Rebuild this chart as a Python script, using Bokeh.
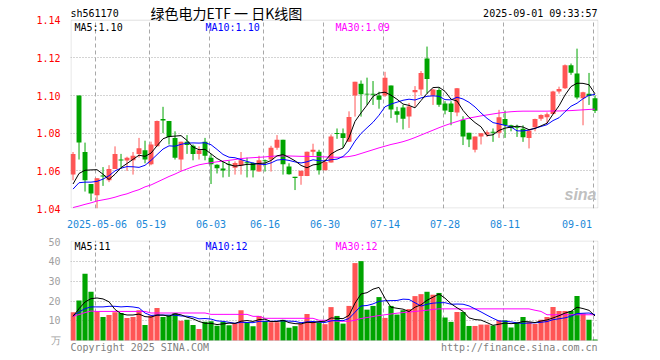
from bokeh.plotting import figure
from bokeh.models import Range1d, FixedTicker, Label, PrintfTickFormatter, BoxAnnotation
from bokeh.layouts import column
from bokeh.embed import file_html
from bokeh.resources import INLINE

# ---------------- data ----------------
opens = [1.058, 1.100, 1.070, 1.053, 1.047, 1.0575, 1.055, 1.061, 1.066, 1.0655,
         1.0656, 1.069, 1.071, 1.0635, 1.073, 1.0875, 1.0865, 1.0775, 1.066, 1.0754,
         1.0733, 1.069, 1.0754, 1.067, 1.0633, 1.0612, 1.0634, 1.0617, 1.0628, 1.0645,
         1.0642, 1.0596, 1.0655, 1.066, 1.0723, 1.0765, 1.0623, 1.0568, 1.0572, 1.0572,
         1.0702, 1.0702, 1.0603, 1.0644, 1.080, 1.080, 1.0754, 1.100, 1.1063, 1.101,
         1.1008, 1.100, 1.100, 1.1053, 1.0916, 1.0937, 1.0888, 1.1017, 1.1032, 1.1197,
         1.100, 1.103, 1.0958, 1.0958, 1.091, 1.0872, 1.0802, 1.0712, 1.0782, 1.0793,
         1.0807, 1.0802, 1.0875, 1.0842, 1.0833, 1.0824, 1.0775, 1.0831, 1.0877, 1.0884,
         1.0902, 1.1021, 1.1038, 1.1161, 1.1117, 1.0986, 1.1009, 1.0986]
highs = [1.070, 1.100, 1.075, 1.053, 1.056, 1.062, 1.063, 1.073, 1.069, 1.0675,
         1.070, 1.0775, 1.076, 1.0755, 1.0867, 1.094, 1.0865, 1.081, 1.0755, 1.079,
         1.074, 1.073, 1.0775, 1.069, 1.0635, 1.065, 1.0653, 1.065, 1.070, 1.067,
         1.0645, 1.068, 1.066, 1.0733, 1.079, 1.0765, 1.064, 1.0568, 1.060, 1.0702,
         1.0744, 1.0712, 1.066, 1.0793, 1.0825, 1.0825, 1.0916, 1.1073, 1.108, 1.1095,
         1.1077, 1.102, 1.1126, 1.1053, 1.094, 1.095, 1.096, 1.105, 1.113, 1.126,
         1.1035, 1.104, 1.097, 1.097, 1.104, 1.089, 1.0802, 1.0782, 1.080, 1.0815,
         1.0825, 1.0924, 1.092, 1.0845, 1.0845, 1.0842, 1.0815, 1.0877, 1.090, 1.091,
         1.1025, 1.1047, 1.1165, 1.117, 1.1249, 1.102, 1.112, 1.100]
lows = [1.055, 1.066, 1.049, 1.044, 1.040, 1.052, 1.054, 1.061, 1.061, 1.060,
        1.058, 1.067, 1.064, 1.063, 1.073, 1.080, 1.074, 1.066, 1.060, 1.069,
        1.0656, 1.066, 1.0656, 1.053, 1.0586, 1.0565, 1.0568, 1.058, 1.058, 1.0565,
        1.0565, 1.0596, 1.0596, 1.0596, 1.0712, 1.058, 1.058, 1.0498, 1.0526, 1.0572,
        1.068, 1.058, 1.0603, 1.0644, 1.077, 1.0723, 1.0754, 1.0888, 1.0888, 1.095,
        1.095, 1.093, 1.0993, 1.088, 1.0856, 1.082, 1.0828, 1.094, 1.100, 1.101,
        1.095, 1.094, 1.090, 1.0842, 1.089, 1.0737, 1.0726, 1.0698, 1.074, 1.078,
        1.0754, 1.0775, 1.0775, 1.081, 1.078, 1.0754, 1.0719, 1.081, 1.0866, 1.085,
        1.090, 1.101, 1.1035, 1.111, 1.098, 1.0842, 1.095, 1.0907]
closes = [1.069, 1.075, 1.055, 1.048, 1.056, 1.057, 1.061, 1.069, 1.0655, 1.067,
          1.068, 1.072, 1.066, 1.074, 1.0865, 1.0867, 1.078, 1.067, 1.0754, 1.0737,
          1.069, 1.071, 1.068, 1.0635, 1.0614, 1.0602, 1.0632, 1.0642, 1.0656, 1.064,
          1.0603, 1.0656, 1.0652, 1.0723, 1.0765, 1.0635, 1.0582, 1.0562, 1.060, 1.0702,
          1.0712, 1.0603, 1.0647, 1.0782, 1.0797, 1.0775, 1.0886, 1.1073, 1.1007, 1.1005,
          1.1005, 1.0977, 1.1095, 1.0926, 1.0898, 1.0877, 1.0942, 1.103, 1.1119, 1.1088,
          1.1032, 1.0951, 1.092, 1.0912, 1.1039, 1.0782, 1.0767, 1.0782, 1.080, 1.0805,
          1.0803, 1.0884, 1.0842, 1.0828, 1.083, 1.0779, 1.0814, 1.0875, 1.0896, 1.0900,
          1.1021, 1.1035, 1.1161, 1.1121, 1.0989, 1.1017, 1.0998, 1.0919]
volumes = [14.4, 20.3, 34.0, 24.8, 14.7, 12.0, 13.0, 14.4, 14.0, 11.5,
           12.0, 15.4, 7.9, 12.7, 16.6, 12.0, 12.7, 14.0, 10.0, 10.6,
           7.9, 5.9, 9.5, 9.8, 7.5, 9.6, 7.8, 8.8, 15.4, 9.2,
           7.3, 12.5, 9.9, 9.3, 9.3, 10.5, 6.5, 7.3, 8.6, 13.5,
           9.4, 9.2, 8.3, 17.0, 12.5, 8.6, 17.6, 39.4, 40.4, 15.7,
           17.6, 22.1, 11.5, 17.6, 13.2, 15.4, 16.0, 22.6, 23.6, 24.8,
           23.3, 24.2, 11.7, 9.5, 14.5, 14.5, 7.4, 7.4, 8.1, 8.1,
           7.6, 10.3, 10.3, 6.6, 9.3, 12.0, 9.3, 8.4, 10.6, 12.0,
           17.1, 15.0, 15.0, 15.0, 22.6, 13.7, 10.5, 0.5]

# first values of the moving averages (window not full inside the shown period)
ma5_head = [1.053, 1.0586, 1.0603, 1.0605]
ma10_head = [1.0503, 1.0537, 1.054, 1.054, 1.0544, 1.0556, 1.0574, 1.060, 1.0614]
ma30 = [1.0405, 1.0413, 1.0422, 1.0430, 1.0440, 1.0446, 1.0452, 1.0460, 1.0470, 1.0478,
        1.0490, 1.0500, 1.0515, 1.0525, 1.0540, 1.0555, 1.0570, 1.0583, 1.0598, 1.0610,
        1.0622, 1.0632, 1.0638, 1.0643, 1.0648, 1.0652, 1.0656, 1.0660, 1.0665, 1.0668,
        1.0670, 1.0672, 1.0674, 1.0677, 1.0679, 1.0679, 1.0679, 1.0678, 1.0677, 1.0677,
        1.0676, 1.0675, 1.0674, 1.0673, 1.0672, 1.0673, 1.0676, 1.0682, 1.0692, 1.0702,
        1.0712, 1.0722, 1.0731, 1.0740, 1.0747, 1.0755, 1.0765, 1.0777, 1.0790, 1.0803,
        1.0816, 1.0829, 1.0841, 1.0852, 1.0862, 1.0872, 1.0880, 1.0886, 1.0892, 1.0897,
        1.0902, 1.0907, 1.0911, 1.0914, 1.0916, 1.0917, 1.0917, 1.0917, 1.0917, 1.0917,
        1.0918, 1.0918, 1.0919, 1.0920, 1.0922, 1.0924, 1.0926, 1.0928]
vma5_head = [12.3, 16.2, 19.6, 21.3]
vma10_head = [12.7, 14.5, 16.2, 17.1, 17.1, 17.1, 17.4, 17.4, 17.1]
vma30 = [12.3, 13.2, 14.2, 15.0, 14.8, 14.8, 14.8, 14.8, 14.8, 14.8,
         14.8, 14.8, 14.8, 14.0, 14.0, 14.0, 14.0, 14.0, 14.0, 14.0,
         14.0, 14.0, 14.0, 13.3, 13.3, 13.3, 13.3, 13.3, 13.3, 13.3,
         12.3, 12.3, 11.3, 11.3, 11.3, 11.3, 11.3, 11.3, 11.3, 11.3,
         11.3, 10.3, 10.3, 10.3, 9.8, 9.8, 9.8, 10.3, 11.2, 11.7,
         12.2, 12.7, 13.1, 13.5, 13.9, 14.2, 14.5, 14.8, 15.1, 15.4,
         15.8, 16.1, 16.1, 16.1, 16.1, 16.1, 16.1, 16.1, 16.1, 16.1,
         16.1, 16.1, 16.1, 16.1, 16.1, 16.1, 16.1, 15.4, 14.8, 13.1,
         13.1, 13.1, 13.1, 13.1, 13.1, 13.1, 13.1, 13.1]

date_idx = [4, 13, 23, 32, 42, 52, 62, 72, 87]
date_labels = ["2025-05-06", "05-19", "06-03", "06-16", "06-30", "07-14", "07-28", "08-11", "09-01"]
price_ticks = [1.04, 1.06, 1.08, 1.10, 1.12, 1.14]
vol_ticks = [10, 20, 30, 40, 50]

# ---------------- helpers ----------------
def rolling(vals, w, head):
    out = list(head)
    for i in range(len(head), len(vals)):
        out.append(sum(vals[i - w + 1:i + 1]) / w)
    return out

n = len(closes)
idx = list(range(n))
ma5 = rolling(closes, 5, ma5_head)
ma10 = rolling(closes, 10, ma10_head)
vma5 = rolling(volumes, 5, vma5_head)
vma10 = rolling(volumes, 10, vma10_head)

RED = "#ff5555"
GREEN = "#00a400"
colors = [RED if c >= o else GREEN for o, c in zip(opens, closes)]
MIN_BODY = 0.0005
tops, bottoms = [], []
for o, c in zip(opens, closes):
    t, b = max(o, c), min(o, c)
    if t - b < MIN_BODY:
        m = (t + b) / 2
        t, b = m + MIN_BODY / 2, m - MIN_BODY / 2
    tops.append(t)
    bottoms.append(b)

FONT = "DejaVu Sans Mono"
GRIDC = "#a8a8a8"
BORDERC = "#999999"
X0, X1 = -0.42, n - 0.42
FL, FR, PXW = 70, 62, 528
PX = PXW / (X1 - X0)

def xd(px):
    return X0 + (px - FL) / PX

def style_common(p):
    p.outline_line_color = None
    p.background_fill_color = "white"
    p.border_fill_color = "white"
    for ax in (p.xaxis[0], p.yaxis[0]):
        ax.major_tick_line_color = None
        ax.minor_tick_line_color = None
        ax.axis_line_color = None
        ax.major_label_text_font = FONT
        ax.major_label_text_font_size = "10px"

def vgrid(p, lo, hi):
    p.xgrid.ticker = FixedTicker(ticks=[d - 0.28 for d in date_idx])
    p.xgrid.grid_line_color = GRIDC
    p.xgrid.grid_line_dash = "4 3"
    try:
        p.xgrid.cross_bounds = (lo, hi)
    except Exception:
        p.xgrid.visible = False
        gx = [d - 0.28 for d in date_idx]
        p.segment(x0=gx, x1=gx, y0=[lo] * len(gx), y1=[hi] * len(gx),
                  line_color=GRIDC, line_dash="4 3", line_width=1)

def add_text(p, x, y, text, color="black", align="left", size="10px", font=FONT,
             style="normal"):
    p.add_layout(Label(x=x, y=y, text=text, text_color=color, text_align=align,
                       text_baseline="middle", text_font=font, text_font_size=size,
                       text_font_style=style))

# ---------------- price figure: chart box 20..211 px, header row above it ----------------
P_TOP, P_H = 20, 191
YP0, YP1 = 1.04, 1.14
PY = (YP1 - YP0) / P_H          # price per pixel

def yp(py):
    return YP1 - (py - P_TOP) * PY

p1 = figure(width=660, height=230, x_range=Range1d(X0, X1),
            y_range=Range1d(YP0, YP1 + P_TOP * PY),
            output_backend="svg", toolbar_location=None,
            min_border_left=FL, min_border_right=FR, min_border_top=0, min_border_bottom=19)
style_common(p1)
vgrid(p1, YP0, YP1)
p1.ygrid.ticker = FixedTicker(ticks=price_ticks[1:-1])
p1.ygrid.grid_line_color = GRIDC
p1.ygrid.grid_line_dash = "1 2"

lab_pos = date_idx[:-1] + [date_idx[-1] - 3]   # last date label right-aligned to the box
p1.xaxis.ticker = FixedTicker(ticks=lab_pos)
p1.xaxis.major_label_overrides = {p: l for p, l in zip(lab_pos, date_labels)}
p1.xaxis.major_label_text_color = "#1a88d8"
p1.xaxis.major_label_standoff = 5

p1.yaxis.ticker = FixedTicker(ticks=price_ticks)
p1.yaxis.formatter = PrintfTickFormatter(format="%.2f")
p1.yaxis.major_label_text_color = "#ff0000"
p1.yaxis.major_label_standoff = 4

p1.add_layout(BoxAnnotation(left=X0 + 0.5 / PX, right=X1 - 0.5 / PX,
                            bottom=YP0 + 0.5 * PY, top=YP1, fill_alpha=0,
                            line_color=BORDERC, line_width=1))

p1.segment(x0=idx, y0=lows, x1=idx, y1=highs, line_color=colors, line_width=1)
p1.vbar(x=idx, width=0.82, top=tops, bottom=bottoms, fill_color=colors, line_color=None)
p1.line(idx, ma30, line_color="#ff00ff", line_width=1)
p1.line(idx, ma10, line_color="#0000ff", line_width=1)
p1.line(idx, ma5, line_color="#000000", line_width=1)

add_text(p1, xd(70), yp(13), "sh561170")
add_text(p1, xd(150), yp(13), "绿色电力ETF 一 日K线图", size="14px", font="Noto Sans CJK SC")
add_text(p1, xd(597), yp(13), "2025-09-01 09:33:57", align="right")
add_text(p1, xd(74), yp(27), "MA5:1.10")
add_text(p1, xd(205), yp(27), "MA10:1.10", color="#0000ff")
add_text(p1, xd(335), yp(27), "MA30:1.09", color="#ff00ff")
add_text(p1, xd(596), yp(197), "sina", color="#c0c0c0", align="right", size="16px",
         font="Liberation Sans", style="bold italic")

# ---------------- volume figure: chart box 240..340 px, footer row below it ----------------
V_TOP, V_H = 10, 100            # inside its own canvas (which starts at 230)
YV0, YV1 = 0.0, 50.9
VY = (YV1 - YV0) / V_H

def yv(py):
    return YV1 - (py - 230 - V_TOP) * VY

p2 = figure(width=660, height=130, x_range=p1.x_range,
            y_range=Range1d(YV0 - 20 * VY, YV1),
            output_backend="svg", toolbar_location=None,
            min_border_left=FL, min_border_right=FR, min_border_top=V_TOP, min_border_bottom=0)
style_common(p2)
p2.xaxis.visible = False
vgrid(p2, YV0, YV1)
p2.ygrid.ticker = FixedTicker(ticks=vol_ticks[:-1])
p2.ygrid.grid_line_color = GRIDC
p2.ygrid.grid_line_dash = "1 2"
p2.yaxis.ticker = FixedTicker(ticks=[0] + vol_ticks)
p2.yaxis.major_label_overrides = {0: "万"}
p2.yaxis.major_label_text_color = "#a0a0a0"
p2.yaxis.major_label_standoff = 4

p2.add_layout(BoxAnnotation(left=X0 + 0.5 / PX, right=X1 - 0.5 / PX,
                            bottom=YV0, top=YV1 - 0.5 * VY, fill_alpha=0,
                            line_color=BORDERC, line_width=1))

p2.vbar(x=idx, width=0.86, top=volumes, bottom=0, fill_color=colors, line_color=None)
p2.line(idx, vma30, line_color="#ff00ff", line_width=1)
p2.line(idx, vma10, line_color="#0000ff", line_width=1)
p2.line(idx, vma5, line_color="#000000", line_width=1)

add_text(p2, xd(74), yv(246), "MA5:11")
add_text(p2, xd(205), yv(246), "MA10:12", color="#0000ff")
add_text(p2, xd(335), yv(246), "MA30:12", color="#ff00ff")
add_text(p2, xd(70), yv(347), "Copyright 2025 SINA.COM", color="#808080")
add_text(p2, xd(597), yv(347), "http://finance.sina.com.cn", color="#808080", align="right")

layout = column(p1, p2, spacing=0)
open("out.html", "w").write(file_html(layout, INLINE))
